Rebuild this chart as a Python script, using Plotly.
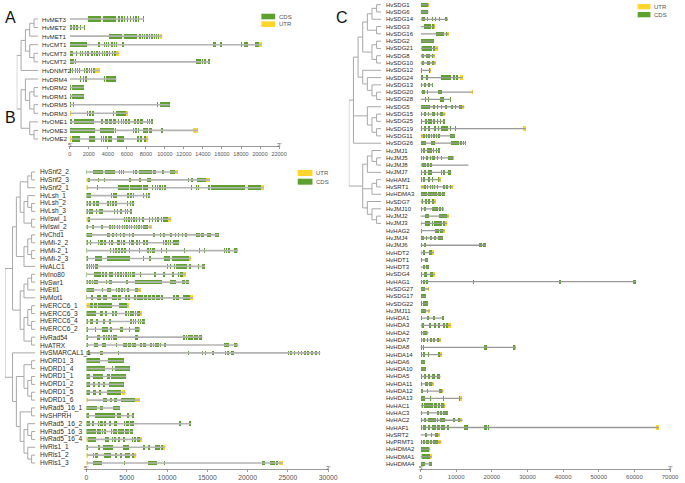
import plotly.graph_objects as go

W, H = 685, 483

# ------------------------------------------------------------------ data
# exon strings: "start-end" in kb (CDS), prefix "u" = UTR
GENES_A = ["MET3", "MET2", "MET1", "CMT1", "CMT3", "CMT2", "DNMT2", "DRM4", "DRM2",
           "DRM1", "DRM5", "DRM3", "OME1", "OME3", "OME2"]
EXONS_A = [
    "0-0.05 1.92-3.3 3.54-4.91 5.1-5.25 5.4-5.55 5.7-5.85 6.0-6.15 6.3-6.45 6.6-6.75 6.9-7.05 7.15-7.25 7.7-7.8",
    "0-0.2 0.35-0.55 0.7-0.9 1.05-1.2 1.45-1.55",
    "0-0.05 4.12-5.5 5.7-7.08 7.3-7.45 7.55-7.7 7.8-7.95 8.05-8.2 8.3-8.45 8.55-8.7 8.8-8.95 9.05-9.2 9.25-9.4 u9.45-9.73",
    "0-1.82 2.92-3.15 3.55-3.65 3.8-3.95 4.05-4.15 4.35-4.55 4.65-4.75 4.85-5.0 5.5-5.65 15.05-15.4 15.8-16.0 17.95-18.15 18.3-18.5 18.55-18.7 19.5-19.86 u19.86-20.2",
    "0-0.35 0.6-0.8 1.1-1.2 1.3-1.4 1.55-1.7 1.85-2.0 2.2-2.45 2.55-2.65 2.8-3.0 3.1-3.2 3.35-3.45 3.6-3.7 3.85-4.0 4.1-4.25 4.4-4.55 4.65-4.9 u4.9-5.2",
    "0-0.45 0.55-0.65 13.3-13.75 13.85-14.0 14.15-14.3 14.5-14.7",
    "0-0.15 0.25-0.35 0.55-0.65 0.8-0.9 1.0-1.1 1.5-1.65 1.75-1.9 2.0-2.1 2.25-2.35 2.45-2.6 u2.65-3.15",
    "0-0.05 1.03-1.2 1.35-1.5 1.6-1.82 3.55-3.7 3.8-4.91",
    "0-0.15 0.25-1.48",
    "0-0.15 0.25-1.48",
    "0-0.15 0.3-0.45 9.14-9.3 9.45-10.5",
    "u0-0.12 1.82-1.95 2.05-2.2 2.3-2.5 4.5-4.6 4.7-4.8 4.9-5.95 u5.95-6.12",
    "0-0.27 0.45-2.5 3.3-3.5 3.65-4.05 4.15-4.45 4.55-4.91 5.1-5.2 5.35-5.45 5.6-5.75 5.85-6.0 6.15-6.3 6.73-6.95 7.1-7.3 7.4-7.66 8.1-8.2 8.35-8.45 8.55-8.7",
    "0-2.68 3.13-4.67 4.74-4.84 6.63-6.78 6.9-7.05 7.15-7.3 7.66-8.18 8.35-8.59 9.6-9.83 12.3-12.36 u12.9-13.47",
    "u0-0.12 0.2-1.03 2.06-2.68 3.26-3.4 3.5-3.6 3.7-3.88 4.05-4.4 5.0-5.7 7.1-7.25 7.4-7.56 7.85-8.0 u8.0-8.25",
]
TREE_A = ("(((((MET3,MET2),MET1),(CMT1,(CMT3,CMT2))),DNMT2),"
          "((DRM4,((DRM2,DRM1),(DRM5,DRM3))),(OME1,(OME3,OME2))))")
TICKS_A = [0, 2000, 4000, 6000, 8000, 10000, 12000, 14000, 16000, 18000, 20000, 22000]

GENES_B = ["Snf2_2", "Snf2_3", "Snf2_1", "Lsh_1", "Lsh_2", "Lsh_3", "Iswi_1", "Iswi_2",
           "Chd1", "Mi-2_2", "Mi-2_1", "Mi-2_3", "ALC1", "Ino80", "Swr1", "Etl1", "Mot1",
           "ERCC6_1", "ERCC6_3", "ERCC6_4", "ERCC6_2", "Rad54", "ATRX", "SMARCAL1_1",
           "DRD1_3", "DRD1_4", "DRD1_1", "DRD1_2", "DRD1_5", "DRD1_6", "Rad5_16_1", "SHPRH",
           "Rad5_16_2", "Rad5_16_3", "Rad5_16_4", "Ris1_1", "Ris1_2", "Ris1_3"]
EXONS_B = [
    "0-0.08 0.77-1.99 2.28-3.5 4.02-4.1 4.25-4.35 4.5-4.6 4.75-4.84 5.77-5.9 6.0-6.26 6.46-8.09 8.21-8.62 9.43-9.59 10.33-10.93 u10.93-11.3",
    "u0-0.16 0.16-0.41 1.38-1.5 2.2-2.32 5.24-5.53 6.46-6.75 7.48-7.97 12.56-12.76 12.97-13.25 13.7-14.88 u14.88-15.28",
    "u0-0.24 1.3-1.46 3.94-5.24 5.45-6.87 7.07-7.68 8.09-8.3 8.45-8.6 8.75-8.9 9.05-9.2 9.35-9.5 9.65-9.92 12.97-13.1 13.3-13.4 13.55-13.7 13.85-13.98 15.12-15.3 15.45-18.25 18.37-19.67 20.0-21.7 u21.7-22.03",
    "0-0.57 3.0-3.2 3.35-3.5 3.6-3.82 5.04-5.24 5.4-5.6 5.75-5.85 6.99-7.15 7.35-7.48 7.68-7.89",
    "0-0.2 0.35-0.57 0.77-1.0 1.15-1.59 2.6-2.75 2.9-3.1 3.2-3.41 3.6-3.82 5.04-5.2 5.35-5.5 5.6-5.93",
    "0-0.2 0.35-0.77 1.18-1.35 1.5-1.99 3.41-3.6 3.75-3.9 4.1-4.43 4.72-4.9 5.05-5.2 5.35-5.65",
    "u0-0.16 0.16-0.49 0.89-0.98 1.99-2.07 4.63-4.75 4.9-5.05 5.2-5.35 5.5-5.65 5.8-6.0 6.1-6.3 6.5-6.7 6.9-7.1 7.7-7.85 8.1-8.25 8.45-8.6 8.8-8.95 9.2-9.35 9.5-10.12 u10.12-10.53",
    "0-0.16 0.65-0.98 1.79-1.99 2.8-3.0 3.15-3.3 3.45-3.6 3.75-3.9 4.05-4.2 4.35-4.5 4.65-4.8 4.95-5.1 5.25-5.4 5.55-5.7 5.85-6.0 6.15-6.3 6.45-6.6 6.75-6.9 7.05-7.2 7.3-7.68 u7.76-8.09",
    "0-0.65 2.6-2.93 3.21-3.45 3.62-3.82 4.15-4.3 4.5-4.84 5.24-5.4 5.6-5.85 8.29-8.45 9.1-9.25 9.5-9.72 10.4-10.65 10.93-11.1 11.3-11.54 11.87-12.03 12.2-12.44 13.58-13.78 13.9-14.05 14.2-14.59 14.92-15.41 15.93-16.42",
    "0-0.16 0.49-0.6 0.89-0.98 1.38-1.5 1.71-1.99 2.2-2.4 2.8-2.95 3.09-3.33 3.8-4.1 4.23-4.43 4.55-4.84 5.24-5.4 5.5-5.85 6.2-6.34 6.46-6.67 7.07-7.2 7.35-7.68 9.5-9.65 9.8-9.95 10.1-10.25 10.4-10.5 10.73-11.54",
    "0-0.08 2.93-3.1 3.25-3.45 3.6-3.8 3.95-4.15 4.3-4.5 4.6-4.96 5.24-5.37 5.85-5.93 6.46-6.59 7.56-7.7 7.85-8.0 8.15-8.5 9.3-9.4 9.92-10.0 12.15-12.25 14.0-14.1 14.59-14.7 15.41-15.5 16.02-16.1 17.03-17.15 17.3-17.45 17.6-17.85 18.25-18.66 u18.66-18.78",
    "0-0.24 1.06-1.87 2.6-5.37 6.99-7.1 7.8-7.95 9.59-10.4 10.61-12.68 u12.68-12.97",
    "0-0.2 0.3-0.45 0.55-0.7 0.8-0.98 1.1-1.38 10.0-10.15 10.4-10.55 10.81-11.0 11.1-11.3 11.4-12.44 12.76-12.97 13.78-13.95 14.39-14.72",
    "0-0.08 0.98-1.8 1.95-2.2 2.35-2.5 2.8-3.0 3.1-3.35 3.5-3.7 3.8-4.0 4.15-4.35 4.5-4.7 4.8-5.0 5.1-5.3 5.4-5.5 5.6-6.06 6.59-6.75 8.37-8.62 9.51-9.7 10.65-10.81 11.34-11.54 11.63-12.03 u12.03-12.36",
    "0-0.2 0.35-0.55 0.65-0.8 0.95-1.38 2.4-2.6 2.75-3.21 4.96-5.12 6.06-9.43 10.33-11.14 11.83-12.2 12.4-12.76",
    "0-0.98 1.87-1.99 2.6-3.0 3.62-3.8 3.9-4.1 4.25-4.5 4.6-4.84 5.04-5.24 6.06-6.34 u6.34-6.75",
    "0-0.08 0.57-0.77 1.3-1.5 1.6-1.79 2.11-2.52 3.21-3.5 3.6-3.82 3.95-4.23 4.8-5.0 5.1-5.4 5.85-6.2 6.3-6.6 6.7-7.0 7.1-7.5 7.6-8.0 8.1-8.5 8.6-9.1 9.2-9.51 10.73-11.0 11.1-11.54 11.95-12.3 12.4-12.85 u12.85-13.25",
    "u0-0.49 0.49-0.8 0.9-1.3 1.4-3.21 4.02-4.6 4.7-5.04 u5.04-5.24",
    "0-1.18 1.71-1.99 2.28-2.52 3.21-3.41 3.5-3.74 4.8-5.0 5.1-5.3 5.4-5.6 5.7-5.9 6.0-6.2 6.3-6.59 u6.59-6.87",
    "0-0.16 0.49-0.77 1.18-1.46 1.99-2.28 2.8-3.09 5.45-5.6 5.75-5.9 6.05-6.2 6.35-6.5 6.65-6.8 6.95-7.28",
    "0-0.24 1.06-1.2 1.87-2.68 2.93-3.21 4.15-4.55 5.24-5.45 6.06-6.46 u6.46-6.67",
    "0-0.24 1.3-1.71 2.11-2.3 2.4-2.6 2.7-2.9 3.0-3.2 3.3-3.5 3.6-3.82 6.06-6.34 12.03-12.2 12.3-12.5 12.6-12.8 12.9-13.17 13.37-13.78 13.98-14.39",
    "0-0.24 0.89-1.38 1.87-2.4 3.62-3.82 4.55-5.0 5.1-5.5 5.6-6.18 6.59-6.87 7.07-7.4 7.89-8.1 8.2-8.4 8.5-8.7 8.8-9.0 9.1-9.3 9.6-9.92 17.03-17.64 18.25-18.66 u18.66-18.86",
    "0-0.33 1.71-1.99 3.9-4.05 12.56-12.76 14.39-14.5 14.65-14.8 15.53-15.8 17.15-17.3 17.5-17.64 17.95-18.25 24.96-25.1 25.3-25.5 25.7-25.9 26.2-26.4 26.6-26.8 27.0-27.2 27.4-27.6 27.9-28.1 28.4-28.6 28.85-29.02",
    "0-1.71 1.99-2.11 2.68-4.63",
    "0-2.28 3.21-3.33 3.5-5.37",
    "0-0.16 0.24-0.49 0.77-2.11 2.6-2.93 3.09-4.96",
    "0-0.49 0.77-1.06 1.38-1.71 2.11-2.28 2.8-4.63",
    "0-0.49 0.77-1.18 1.59-1.79 2.52-4.31 u4.43-4.84",
    "u0-0.16 2.08-2.6 2.93-3.21 3.41-3.74 4.23-6.06 u6.06-6.59",
    "0-1.3 1.71-1.99 3.33-4.15",
    "0-0.37 1.06-3.5 3.74-4.31 5.04-5.24 5.65-5.85",
    "0-0.49 0.65-0.98 1.38-1.55 1.65-1.99 2.2-2.4 2.8-3.0 3.41-3.82 4.63-4.8 4.9-5.24 5.45-5.93 11.46-11.75 12.68-12.97",
    "0-0.89 0.98-1.2 1.3-1.5 1.6-1.8 1.9-2.1 2.2-2.4 2.52-2.6 3.0-3.2 3.3-3.5 3.6-3.8 3.9-4.1 4.2-4.63 4.72-5.24 5.45-5.77",
    "u0-0.16 0.16-1.18 2.28-2.8 3.21-3.3 3.45-3.62 3.9-4.2 4.55-4.84 5.6-5.8 5.95-6.2 6.3-6.59 u6.59-6.87",
    "0-0.16 1.38-1.71 1.99-2.4 2.45-3.33 4.55-5.24 7.07-7.28 7.68-7.89 8.5-9.1 9.3-9.51 u9.51-9.8",
    "u0-0.16 0.77-0.98 1.06-1.38 2.2-3.09 3.5-3.74 4.15-4.43 4.72-5.37 5.65-5.85 u5.85-6.18",
    "u0-0.16 0.77-0.98 0.98-1.87 4.63-4.8 7.68-8.78 9.59-9.72 21.79-22.11 22.72-23.41 23.54-23.74 u23.94-24.35",
]
TREE_B = ("(((((((Snf2_2,Snf2_3),Snf2_1),((Lsh_1,(Lsh_2,Lsh_3)),(Iswi_1,Iswi_2))),"
          "(((Chd1,Mi-2_2),(Mi-2_1,Mi-2_3)),ALC1)),"
          "((((Ino80,Swr1),Etl1),Mot1),(((ERCC6_1,ERCC6_3),(ERCC6_4,ERCC6_2)),(Rad54,ATRX))))),"
          "(SMARCAL1_1,(((DRD1_3,DRD1_4),((DRD1_1,DRD1_2),(DRD1_5,DRD1_6))),"
          "((Rad5_16_1,SHPRH),((Rad5_16_2,(Rad5_16_3,Rad5_16_4)),(Ris1_1,(Ris1_2,Ris1_3)))))))")
TICKS_B = [0, 5000, 10000, 15000, 20000, 25000, 30000]

GENES_C = ["SDG1", "SDG6", "SDG14", "SDG3", "SDG16", "SDG2", "SDG21", "SDG8", "SDG10", "SDG12",
           "SDG24", "SDG13", "SDG20", "SDG28", "SDG5", "SDG15", "SDG25", "SDG19", "SDG11", "SDG26",
           "JMJ1", "JMJ5", "JMJ8", "JMJ7", "HAM1", "SRT1", "HDMA3", "SDG7", "JMJ10", "JMJ2", "JMJ3",
           "HAG2", "JMJ4", "JMJ6", "HDT2", "HDT1", "HDT3", "SDG4", "HAG1", "SDG27", "SDG17", "SDG22",
           "JMJ11", "HDA1", "HDA3", "HDA2", "HDA7", "HDA8", "HDA14", "HDA6", "HDA10", "HDA5", "HDA11",
           "HDA12", "HDA13", "HAC1", "HAC3", "HAC2", "HAF1", "SRT2", "PRMT1", "HDMA2", "HDMA1", "HDMA4"]
EXONS_C = [
    "0-2.02 u2.02-2.39",
    "0-2.2",
    "u0-0.37 0.37-1.29 1.74-2.2 3.12-3.49 4.04-4.41 5.14-5.51 6.8-7.53 u7.53-7.71",
    "u0-0.18 1.1-2.94 3.31-3.67 u3.67-4.04",
    "u0-0.18 4.22-6.61 7.07-7.35 u7.53-7.9",
    "0-3.86",
    "u0-0.37 0.37-3.12 3.58-4.04 u4.04-4.78",
    "u0-0.37 0.37-0.92 1.47-2.66 3.12-3.58 u3.58-4.04",
    "u0-0.37 0.37-1.1 1.74-2.75 3.12-3.67 u3.67-4.22",
    "0-0.55 2.39-2.75 u2.75-2.94",
    "0-0.83 1.47-2.02 3.12-3.31 5.88-8.63 9.09-9.73 10.0-10.47 10.93-11.2 u11.2-11.85",
    "0-0.37 1.1-1.65 2.2-2.57 3.12-3.49",
    "u0-0.18 0.55-1.29 1.74-2.02 4.96-6.06 u14.33-14.69",
    "0-0.05 1.29-1.65 2.02-2.39 5.33-6.61 8.4-8.45",
    "0-2.66 3.58-4.04 4.5-4.96 5.69-6.06 6.8-7.53 8.63-9.09 9.55-10.0 10.65-11.66 u11.66-12.3",
    "0-0.55 1.1-1.47 2.02-2.39 3.31-4.04 4.5-4.96 5.42-6.34 u6.34-6.98",
    "0-0.55 1.29-1.74 2.2-3.12 3.58-4.04 4.5-4.96 5.42-5.88 6.34-6.8",
    "0-0.55 1.1-1.47 2.02-2.57 3.86-4.22 4.78-5.14 5.88-7.71 8.17-8.63 9.55-10.0 10.93-11.2 u28.83-29.57",
    "u0-0.73 0.73-1.29 1.47-1.9 2.2-2.6 2.9-3.3 3.6-4.0 4.3-4.7 5.0-5.42 8.17-9.73",
    "0-1.47 2.94-4.04 8.63-10.47 10.6-10.9 11.2-11.6 11.9-12.3 12.5-12.76",
    "0-0.37 0.83-1.29 1.74-3.12 3.5-3.9 4.2-4.6 4.9-5.42",
    "0-0.37 0.73-1.1 1.47-2.2 2.66-2.94 3.31-4.04 4.5-4.96 5.69-6.06 7.71-9.09 u9.09-9.37",
    "u0-0.37 0.37-0.9 1.1-1.6 1.8-2.5 2.7-3.12 u13.22-13.41",
    "0-0.55 1.1-1.47 2.2-3.31 5.69-6.06 6.34-6.8 7.71-8.45 u8.45-8.63",
    "0-0.55 0.83-1.29 2.2-2.66 3.12-3.58 4.78-5.14 u5.14-5.69",
    "u0-0.92 0.92-1.47 1.74-2.2 2.66-2.9 3.3-3.5 3.9-4.1 4.5-4.96 6.34-6.98 7.25-7.71 8.17-8.63 u8.63-9.18",
    "0-1.74 2.02-4.5 4.96-5.69 6.06-6.8",
    "u0-0.37 0.37-0.83 1.29-1.74 2.2-2.66 3.12-3.86 u3.86-4.22",
    "0-0.37 1.1-1.47 3.12-4.78 5.14-5.88 6.06-6.34 u6.34-6.61",
    "u0-0.18 1.29-2.39 5.14-7.53 u7.53-7.9",
    "u0-0.37 1.29-2.66 3.12-3.58 3.86-6.06 6.34-6.8 u6.98-7.53",
    "0-0.55 4.04-4.5 4.7-5.2 5.4-6.34 u6.34-6.8",
    "0-1.1 1.47-1.84 2.66-3.31 3.86-4.22 4.78-6.34",
    "0-0.37 1.1-1.47 16.44-17.3 17.5-18.37",
    "u0-0.37 0.83-1.29 2.39-3.31 u3.31-3.67",
    "0-0.55 1.29-2.02",
    "0-0.1 0.83-1.3 1.5-2.39",
    "0-0.55 1.1-1.74 2.66-3.58 u3.58-4.04",
    "0-0.55 0.83-1.2 1.4-2.02 14.6-15.06 38.93-39.39 59.6-60.1 60.2-60.5",
    "0-1.29 u2.02-2.39",
    "0-1.47",
    "0-0.55 0.83-2.2",
    "0-1.47 u2.2-2.66",
    "0-0.37 1.74-2.39 3.58-4.04 6.06-6.61",
    "u0-0.37 0.55-1.1 2.39-2.94 3.86-4.22 4.96-5.51 6.34-6.98 7.25-7.71 u7.71-8.45",
    "0-0.55 0.83-1.74 u1.74-2.2",
    "0-0.55 0.83-1.29 1.74-2.2 2.66-3.12 3.58-4.04 4.5-5.14 u5.14-5.69",
    "0-0.55 0.83-1.1 14.6-14.78 17.81-18.55 25.9-26.4 u26.4-26.81",
    "0-0.55 0.83-1.29 2.02-2.39 4.78-5.42 u5.42-6.06",
    "0-1.29",
    "0-1.47",
    "0-0.55 1.1-1.47 2.02-2.66 3.12-4.04 4.5-5.42 u5.42-5.6",
    "0-0.55 1.29-2.02 2.39-3.12 u3.31-3.67",
    "0-0.83 1.74-2.2 5.14-6.06 u6.06-6.43",
    "0-1.29 2.66-2.94 6.34-6.61 10.65-11.2 u11.2-11.66",
    "u0-0.37 0.37-0.83 1.1-2.02 2.02-3.58 3.86-4.5 4.78-5.42 5.69-6.61 u6.61-6.98",
    "0-0.55 1.74-2.39 4.5-5.2 5.4-6.0 6.2-6.8 7.0-7.71",
    "0-0.55 1.1-1.65 2.2-4.22 4.5-4.96 5.42-6.8 9.09-9.73 10.47-11.2 u11.2-11.75",
    "0-0.55 0.83-1.47 2.02-2.66 3.12-4.22 4.5-5.42 5.69-6.8 7.53-7.9 12.12-13.41 17.81-18.73 18.92-19.19 u66.0-66.76",
    "0-0.18 1.29-1.74 2.94-3.31 4.04-4.96 u4.96-5.33",
    "0-0.55 0.73-1.29 1.47-2.39 2.66-3.31 3.58-4.96 u4.96-5.88",
    "0-2.39 u2.39-2.75",
    "u0-0.37 0.37-2.02 2.2-2.66 u2.66-3.12",
    "0-1.29 2.39-3.12",
]
TREE_C = ("(((((((SDG1,SDG6),SDG14),(SDG3,SDG16)),((SDG2,SDG21),(SDG8,SDG10))),"
          "(SDG12,(SDG24,(SDG13,(SDG20,SDG28))))),(SDG5,((SDG15,SDG25),(SDG19,SDG11))),SDG26),"
          "(((JMJ1,(JMJ5,JMJ8)),JMJ7),((HAM1,SRT1),HDMA3),(SDG7,(JMJ10,(JMJ2,JMJ3))))),"
          "((((HAG2,(JMJ4,JMJ6)),(HDT2,(HDT1,HDT3))),((SDG4,HAG1),((SDG27,SDG17),(SDG22,JMJ11)))),"
          "(((((HDA1,HDA3),(HDA2,HDA7)),(HDA8,HDA14)),((HDA6,HDA10),(HDA5,(HDA11,(HDA12,HDA13))))),"
          "((HAC1,(HAC3,HAC2)),((HAF1,SRT2),(PRMT1,(HDMA2,(HDMA1,HDMA4))))))))")
TICKS_C = [0, 10000, 20000, 30000, 40000, 50000, 60000, 70000]

# ------------------------------------------------------------------ style
CDS = "#5fa12f"
UTR = "#ffd42b"
GENE_LINE = "#b3b3b3"
TREE_LINE = "#a8a8a8"
FONT = "Liberation Sans, Arial, sans-serif"


def parse_newick(s):
    pos = 0

    def node():
        nonlocal pos
        if s[pos] == "(":
            pos += 1
            kids = [node()]
            while s[pos] == ",":
                pos += 1
                kids.append(node())
            pos += 1  # ')'
            return kids
        start = pos
        while pos < len(s) and s[pos] not in ",()":
            pos += 1
        return s[start:pos].strip()

    return node()


def height(n):
    return 0 if isinstance(n, str) else 1 + max(height(c) for c in n)


def tree_segments(tree, order):
    idx = {g: i for i, g in enumerate(order)}
    hroot = height(tree)
    xs, ys = [], []

    def walk(n):
        if isinstance(n, str):
            return hroot, idx[n]
        x = hroot - height(n)
        pts = [walk(c) for c in n]
        cy = [p[1] for p in pts]
        for px, py in pts:
            xs.extend([x, px, None])
            ys.extend([py, py, None])
        xs.extend([x, x, None])
        ys.extend([min(cy), max(cy), None])
        return x, (min(cy) + max(cy)) / 2

    walk(tree)
    return xs, ys, hroot


def parse_exons(s):
    out = []
    for tok in s.split():
        kind = "u" if tok.startswith("u") else "c"
        a, b = tok.lstrip("u").split("-")
        out.append((kind, float(a) * 1000, float(b) * 1000))
    return out


def px_x(p):
    return p / W


def px_y(p):
    return 1 - p / H


panels = [
    dict(genes=GENES_A, exons=EXONS_A, tree=TREE_A, ticks=TICKS_A, xmax=22000,
         gx=(69, 282), r0=19, dr=8.571, ybot=146, ytop=12, tpx=(15, 37), lab=39,
         lsize=6.2, tsize=5.5, lw=1.6, gline=GENE_LINE),
    dict(genes=GENES_B, exons=EXONS_B, tree=TREE_B, ticks=TICKS_B, xmax=30000,
         gx=(86, 332), r0=172, dr=7.865, ybot=469, ytop=166, tpx=(3, 34), lab=37,
         lsize=6.6, tsize=6.8, lw=1.6, gline=GENE_LINE),
    dict(genes=GENES_C, exons=EXONS_C, tree=TREE_C, ticks=TICKS_C, xmax=70000,
         gx=(426, 680), r0=4.7, dr=7.29, ybot=469, ytop=0, tpx=(353, 386), lab=389,
         lsize=6.0, tsize=6.0, lw=1.3, gline="#9a9a9a"),
]

fig = go.Figure()
annotations = []
layout = {}

for k, p in enumerate(panels):
    xr = "x" if k == 0 else f"x{k + 1}"
    yr = "y" if k == 0 else f"y{k + 1}"
    tr = f"x{k + 4}"
    exl = [parse_exons(s) for s in p["exons"]]

    # gene backbone lines
    lx, ly = [], []
    for i, ex in enumerate(exl):
        end = max(e for _, _, e in ex)
        lx += [0, end, None]
        ly += [i, i, None]
    fig.add_trace(go.Scatter(x=lx, y=ly, mode="lines", xaxis=xr, yaxis=yr,
                             line=dict(color=p["gline"], width=p["lw"]),
                             hoverinfo="skip", showlegend=False))
    # exons
    for kind, col in (("c", CDS), ("u", UTR)):
        yy, bb, ll = [], [], []
        for i, ex in enumerate(exl):
            for kd, a, b in ex:
                if kd == kind:
                    yy.append(i)
                    bb.append(a)
                    ll.append(b - a)
        fig.add_trace(go.Bar(orientation="h", y=yy, x=ll, base=bb, width=0.6,
                             xaxis=xr, yaxis=yr, marker=dict(color=col, line=dict(width=0)),
                             hoverinfo="skip", showlegend=False))
    # tree
    tree = parse_newick(p["tree"])
    txs, tys, hroot = tree_segments(tree, p["genes"])
    fig.add_trace(go.Scatter(x=txs, y=tys, mode="lines", xaxis=tr, yaxis=yr,
                             line=dict(color=TREE_LINE, width=1),
                             hoverinfo="skip", showlegend=False))

    ydom = [px_y(p["ybot"]), px_y(p["ytop"])]
    yrange = [(p["ybot"] - p["r0"]) / p["dr"], (p["ytop"] - p["r0"]) / p["dr"]]
    xkey = "xaxis" if k == 0 else f"xaxis{k + 1}"
    ykey = "yaxis" if k == 0 else f"yaxis{k + 1}"
    layout[xkey] = dict(domain=[px_x(p["gx"][0]), px_x(p["gx"][1])], range=[0, p["xmax"]],
                        anchor=yr, showline=True, linecolor="#9a9a9a", linewidth=1,
                        ticks="outside", ticklen=2, tickcolor="#9a9a9a",
                        tickvals=p["ticks"], ticktext=[str(t) for t in p["ticks"]],
                        tickfont=dict(size=p["tsize"], color="#555", family=FONT),
                        showgrid=False, zeroline=False, fixedrange=True)
    layout[ykey] = dict(domain=ydom, range=yrange, visible=False, anchor=xr,
                        fixedrange=True)
    layout[f"xaxis{k + 4}"] = dict(domain=[px_x(p["tpx"][0]), px_x(p["tpx"][1])],
                                   range=[0, hroot], anchor=yr, visible=False,
                                   fixedrange=True)

    for i, g in enumerate(p["genes"]):
        annotations.append(dict(x=px_x(p["lab"]), xref="paper", y=i, yref=yr,
                                text="Hv" + g, showarrow=False, xanchor="left",
                                yanchor="middle",
                                font=dict(size=p["lsize"], color="#2a2a2a", family=FONT)))
    # 5' / 3'
    for txt, xp in (("5'", p["gx"][0]), ("3'", p["gx"][1])):
        annotations.append(dict(x=px_x(xp), xref="paper", y=px_y(p["ybot"] - 1), yref="paper",
                                text=txt, showarrow=False, xanchor="center", yanchor="middle",
                                font=dict(size=6, color="#555", family=FONT)))

# legends (style)
shapes = []
legends = [
    ((264, 278), [(13.7, 19.3, CDS, "CDS"), (21.3, 27, UTR, "UTR")], 280),
    ((301, 316), [(170, 176, UTR, "UTR"), (178.7, 184.7, CDS, "CDS")], 318),
    ((647, 660), [(4, 9.3, UTR, "UTR"), (12, 17.3, CDS, "CDS")], 662),
]
for (x0, x1), items, tx in legends:
    for y0, y1, col, txt in items:
        shapes.append(dict(type="rect", xref="paper", yref="paper",
                           x0=px_x(x0), x1=px_x(x1), y0=px_y(y1), y1=px_y(y0),
                           fillcolor=col, line=dict(width=0)))
        annotations.append(dict(x=px_x(tx), xref="paper", y=px_y((y0 + y1) / 2), yref="paper",
                                text=txt, showarrow=False, xanchor="left", yanchor="middle",
                                font=dict(size=6, color="#555", family=FONT)))

for letter, x, y in (("A", 9, 18), ("B", 9, 117), ("C", 346, 18)):
    annotations.append(dict(x=px_x(x), xref="paper", y=px_y(y), yref="paper", text=letter,
                            showarrow=False, xanchor="center", yanchor="middle",
                            font=dict(size=16, color="#111", family=FONT)))

fig.update_layout(width=W, height=H, margin=dict(l=0, r=0, t=0, b=0),
                  paper_bgcolor="white", plot_bgcolor="rgba(0,0,0,0)",
                  barmode="overlay", bargap=0, showlegend=False, hovermode=False,
                  annotations=annotations, shapes=shapes, **layout)

fig.write_html("out.html", config={"displayModeBar": False, "staticPlot": True},
               post_script="document.body.style.margin='0';document.body.style.overflow='hidden';")
